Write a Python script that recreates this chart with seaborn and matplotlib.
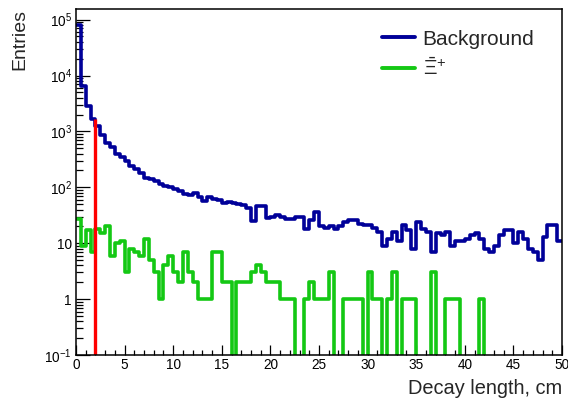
import numpy as np
import pandas as pd
import matplotlib
matplotlib.use("Agg")
import matplotlib.pyplot as plt
import seaborn as sns
from matplotlib.lines import Line2D
from matplotlib.ticker import FixedLocator, NullFormatter, LogLocator, MultipleLocator

# ---------------- data ----------------
BIN_WIDTH = 0.5
X_MIN, X_MAX = 0, 50

background = [
    80000, 6500, 2800, 1700, 1250, 860, 630, 530, 400, 350,
    295, 240, 210, 177, 145, 140, 130, 115, 105, 100,
    95, 85, 75, 72, 78, 68, 58, 68, 62, 60,
    52, 54, 53, 50, 48, 42, 25, 46, 46, 28,
    29, 32, 30, 27, 27, 30, 29, 18, 26, 36,
    20, 19, 20, 18, 20, 24, 26, 26, 22, 21,
    21, 19, 16, 9, 12, 16, 11, 21, 17, 8,
    24, 18, 16, 7, 15, 14, 16, 9, 11, 11,
    12, 14, 15, 12, 8, 7, 9, 14, 17, 17,
    10, 16, 12, 8, 7, 5, 13, 21, 21, 11,
]

signal = [
    27, 9, 17, 7, 18, 15, 20, 6, 10, 11,
    3, 8, 7, 6, 12, 5, 3, 1, 4, 6,
    3, 2, 7, 3, 2, 1, 1, 1, 7, 7,
    2, 2, 0, 2, 2, 2, 3, 4, 3, 2,
    2, 2, 1, 1, 1, 0, 0, 1, 2, 1,
    1, 1, 3, 0, 0, 1, 1, 1, 1, 0,
    3, 1, 1, 0, 1, 3, 0, 1, 1, 1,
    0, 0, 0, 3, 0, 0, 1, 1, 1, 0,
    0, 0, 0, 1, 0, 0, 0, 0, 0, 0,
    0, 0, 0, 0, 0, 0, 0, 0, 0, 0,
]

cut_position = 2.0
cut_height = 1700

series_labels = ["Background", r"$\bar{\Xi}^{+}$"]
x_ticks = [0, 5, 10, 15, 20, 25, 30, 35, 40, 45, 50]
x_tick_labels = ["0", "5", "10", "15", "20", "25", "30", "35", "40", "45", "50"]
y_ticks = [0.1, 1, 10, 100, 1000, 10000, 100000]
y_tick_labels = [r"$10^{-1}$", "1", "10", r"$10^{2}$", r"$10^{3}$", r"$10^{4}$", r"$10^{5}$"]
y_min, y_max = 0.1, 1.53e5
x_label = "Decay length, cm"
y_label = "Entries"

BLUE = "#000099"
GREEN = "#14c814"
RED = "#ff0000"

# ---------------- build ----------------
centers = X_MIN + BIN_WIDTH * (np.arange(len(background)) + 0.5)
df = pd.DataFrame({"x": centers, "bkg": background, "sig": signal})

sns.set_style("white")
plt.rcParams["font.family"] = ["Liberation Sans", "DejaVu Sans"]
plt.rcParams["mathtext.fontset"] = "custom"
plt.rcParams["mathtext.rm"] = "Liberation Sans"
plt.rcParams["mathtext.it"] = "Liberation Sans:italic"
plt.rcParams["mathtext.bf"] = "Liberation Sans:bold"

fig = plt.figure(figsize=(5.68, 4.01), dpi=100)
ax = fig.add_axes([76 / 568, 1 - 355 / 401, 486 / 568, 345.7 / 401])

sns.histplot(data=df, x="x", weights="bkg", binwidth=BIN_WIDTH,
             binrange=(X_MIN, X_MAX), element="step",
             fill=False, color=BLUE, linewidth=2.6, ax=ax)
sns.histplot(data=df, x="x", weights="sig", binwidth=BIN_WIDTH,
             binrange=(X_MIN, X_MAX), element="step",
             fill=False, color=GREEN, linewidth=2.6, ax=ax)

ax.set_yscale("log", nonpositive="clip")
ax.set_xlim(X_MIN, X_MAX)
ax.set_ylim(y_min, y_max)

ax.plot([cut_position, cut_position], [y_min, cut_height], color=RED, lw=2.4,
        solid_capstyle="butt")

# ticks
ax.xaxis.set_major_locator(FixedLocator(x_ticks))
ax.set_xticklabels(x_tick_labels)
ax.xaxis.set_minor_locator(MultipleLocator(1))
ax.yaxis.set_major_locator(FixedLocator(y_ticks))
ax.set_yticklabels(y_tick_labels)
ax.yaxis.set_minor_locator(LogLocator(base=10, subs=np.arange(2, 10), numticks=30))
ax.yaxis.set_minor_formatter(NullFormatter())

ax.tick_params(which="both", direction="in", top=False, right=False,
               bottom=True, left=True, colors="black", labelsize=9.8)
ax.tick_params(axis="y", which="major", length=10, width=0.9, pad=3)
ax.tick_params(axis="y", which="minor", length=5, width=0.9)
ax.tick_params(axis="x", which="major", length=7.5, width=0.9, pad=2.5)
ax.tick_params(axis="x", which="minor", length=3.8, width=0.9)

for s in ax.spines.values():
    s.set_visible(True)
    s.set_color("black")
    s.set_linewidth(1.1)

ax.set_ylabel(y_label, loc="top", fontsize=14)
ax.yaxis.set_label_coords(-0.097, 1.0)
ax.set_xlabel(x_label, loc="right", fontsize=14.4)
ax.xaxis.set_label_coords(1.0, -0.07)

handles = [Line2D([], [], color=BLUE, lw=2.8), Line2D([], [], color=GREEN, lw=2.8)]
ax.legend(handles, series_labels, loc="upper left", bbox_to_anchor=(0.6296, 0.941),
          frameon=False, fontsize=15, handlelength=1.6, handletextpad=0.35,
          labelspacing=0.42, borderpad=0, borderaxespad=0)

fig.savefig("out.png", dpi=100)
